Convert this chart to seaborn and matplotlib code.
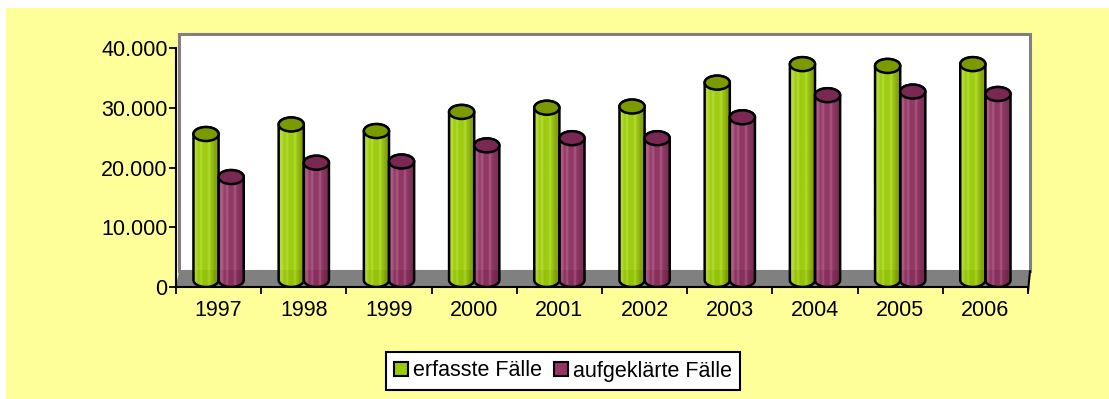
import numpy as np
import pandas as pd
import matplotlib
matplotlib.use("Agg")
import matplotlib.pyplot as plt
import seaborn as sns
from matplotlib.patches import Rectangle, Polygon, PathPatch, Ellipse, Patch
from matplotlib.path import Path
from matplotlib.colors import LinearSegmentedColormap, to_rgb, to_hex
from matplotlib.ticker import FuncFormatter, FixedLocator

# Data
jahre = ["1997", "1998", "1999", "2000", "2001", "2002", "2003", "2004", "2005", "2006"]
erfasst = [25600, 27200, 26100, 29300, 30000, 30200, 34200, 37300, 37000, 37300]
aufgeklaert = [18400, 20800, 21000, 23700, 24900, 24900, 28400, 32100, 32700, 32300]
serien = ["erfasste Fälle", "aufgeklärte Fälle"]
y_ticks = [0, 10000, 20000, 30000, 40000]

# Styling
GREEN = "#99CC00"
PLUM = "#993366"
GREEN_TOP = "#7A9A00"
PLUM_TOP = "#782852"
BG = "#FFFF99"
FS = 15.5

sns.set_theme(style="white")
plt.rcParams["font.family"] = ["Liberation Sans", "DejaVu Sans"]

df = pd.DataFrame({
    "Jahr": jahre * 2,
    "Fälle": erfasst + aufgeklaert,
    "Art": [serien[0]] * len(jahre) + [serien[1]] * len(jahre),
})

W, H = 1109, 399
fig = plt.figure(figsize=(W / 100, H / 100), dpi=100, facecolor="white")

# yellow chart area
fig.patches.append(Rectangle((6 / W, 0), 1 - 6 / W, (H - 8) / H,
                             transform=fig.transFigure, facecolor=BG,
                             edgecolor="none", zorder=-10))

ax_l, ax_r, ax_b, ax_t = 176, 1028, 287, 48
ax = fig.add_axes([ax_l / W, (H - ax_b) / H, (ax_r - ax_l) / W, (ax_b - ax_t) / H])
ax.set_facecolor("none")

sns.barplot(data=df, x="Jahr", y="Fälle", hue="Art", palette=[GREEN, PLUM],
            width=0.59, gap=0, dodge=True, legend=False, ax=ax,
            saturation=1, errorbar=None)
bars = [p for p in ax.patches if isinstance(p, Rectangle)]

ax.set_xlim(-0.5, len(jahre) - 0.5)
ax.set_ylim(0, 40000)
xlim, ylim = ax.get_xlim(), ax.get_ylim()


def px2ax(px, py):
    return ((px - ax_l) / (ax_r - ax_l), (ax_b - py) / (ax_b - ax_t))


# back wall
(wx0, wy0), (wx1, wy1) = px2ax(179, 271), px2ax(1030, 34)
ax.add_patch(Rectangle((wx0, wy0), wx1 - wx0, wy1 - wy0, transform=ax.transAxes,
                       facecolor="white", edgecolor="#808080", lw=2.2,
                       clip_on=False, zorder=0.1))
# floor
floor_pts = [px2ax(176, 287), px2ax(1028, 287), px2ax(1030, 271), px2ax(179, 271)]
ax.add_patch(Polygon(floor_pts, closed=True, transform=ax.transAxes,
                     facecolor="#808080", edgecolor="none", clip_on=False,
                     zorder=0.2))
ax.plot([floor_pts[1][0], floor_pts[2][0]], [floor_pts[1][1] - 0.02, floor_pts[2][1]],
        transform=ax.transAxes, color="black", lw=1.5, clip_on=False, zorder=0.3)


def stripe_cmap(base, light, dark):
    b, l, d = to_rgb(base), to_rgb(light), to_rgb(dark)
    stops = [(0.0, l), (0.12, l), (0.22, b), (0.32, l), (0.38, b),
             (0.55, b), (0.62, l), (0.68, b), (0.85, d), (1.0, d)]
    return LinearSegmentedColormap.from_list("cyl", stops)


cmaps = {
    GREEN: stripe_cmap("#96C800", "#B0DA26", "#7E9E00"),
    PLUM: stripe_cmap("#882A59", "#A8507F", "#74214B"),
}
tops = {GREEN: GREEN_TOP, PLUM: PLUM_TOP}

# ellipse height in data units (about 14 px on screen)
e_h = 14 / (ax_b - ax_t) * (ylim[1] - ylim[0])
grad = np.linspace(0, 1, 200).reshape(1, -1)

for bar in bars:
    if bar.get_height() <= 0:
        continue
    x, w, v = bar.get_x(), bar.get_width(), bar.get_height()
    col = GREEN if to_hex(bar.get_facecolor()).lower() == GREEN.lower() else PLUM
    bar.set_visible(False)
    cx, r = x + w / 2, w / 2
    yb = e_h / 2
    t = np.linspace(np.pi, 2 * np.pi, 40)
    low = np.column_stack([cx + r * np.cos(t), yb + e_h / 2 * np.sin(t)])
    t2 = np.linspace(0, np.pi, 40)
    upp = np.column_stack([cx + r * np.cos(t2), v + e_h / 2 * np.sin(t2)])
    verts = np.vstack([[x, v], low, [x + w, v], upp])
    sil = PathPatch(Path(verts, closed=False), facecolor="none",
                    edgecolor="black", lw=1.8, zorder=3.2)
    ax.add_patch(sil)
    clip = PathPatch(Path(verts), transform=ax.transData)
    im = ax.imshow(grad, cmap=cmaps[col], extent=[x, x + w, 0, v + e_h],
                   aspect="auto", zorder=3, alpha=0.93, interpolation="bilinear")
    im.set_clip_path(clip)
    ax.add_patch(Ellipse((cx, v), w, e_h, facecolor=tops[col], edgecolor="black",
                         lw=1.8, zorder=3.3))

ax.set_xlim(xlim)
ax.set_ylim(ylim)

# axes and ticks
sns.despine(ax=ax, top=True, right=True)
for s in ("left", "bottom"):
    ax.spines[s].set_color("black")
    ax.spines[s].set_linewidth(1.5)
    ax.spines[s].set_zorder(4)
ax.set_yticks(y_ticks)
ax.yaxis.set_major_formatter(FuncFormatter(lambda v, p: f"{int(v):,}".replace(",", ".")))
ax.tick_params(axis="y", direction="out", length=5, width=1.3, color="black",
               labelsize=FS, pad=1, left=True, labelcolor="black")
ax.tick_params(axis="x", which="major", length=0, labelsize=FS, pad=9,
               labelcolor="black")
ax.xaxis.set_minor_locator(FixedLocator(np.arange(-0.5, len(jahre), 1.0)))
ax.tick_params(axis="x", which="minor", direction="out", length=5, width=1.3,
               color="black", bottom=True)
ax.set_xlabel("")
ax.set_ylabel("")
ax.grid(False)

handles = [Patch(facecolor=GREEN, edgecolor="black", lw=1.5, label=serien[0]),
           Patch(facecolor=PLUM, edgecolor="black", lw=1.5, label=serien[1])]
leg = fig.legend(handles=handles, loc="center", bbox_to_anchor=(563 / W, 28 / H),
                 ncol=2, frameon=True, fancybox=False, edgecolor="black",
                 facecolor="white", fontsize=FS, handlelength=0.65,
                 handleheight=0.65, handletextpad=0.2, columnspacing=0.6,
                 borderpad=0.4, framealpha=1)
leg.get_frame().set_linewidth(1.5)
for txt in leg.get_texts():
    txt.set_color("black")

fig.savefig("out.png", dpi=100, facecolor="white")
